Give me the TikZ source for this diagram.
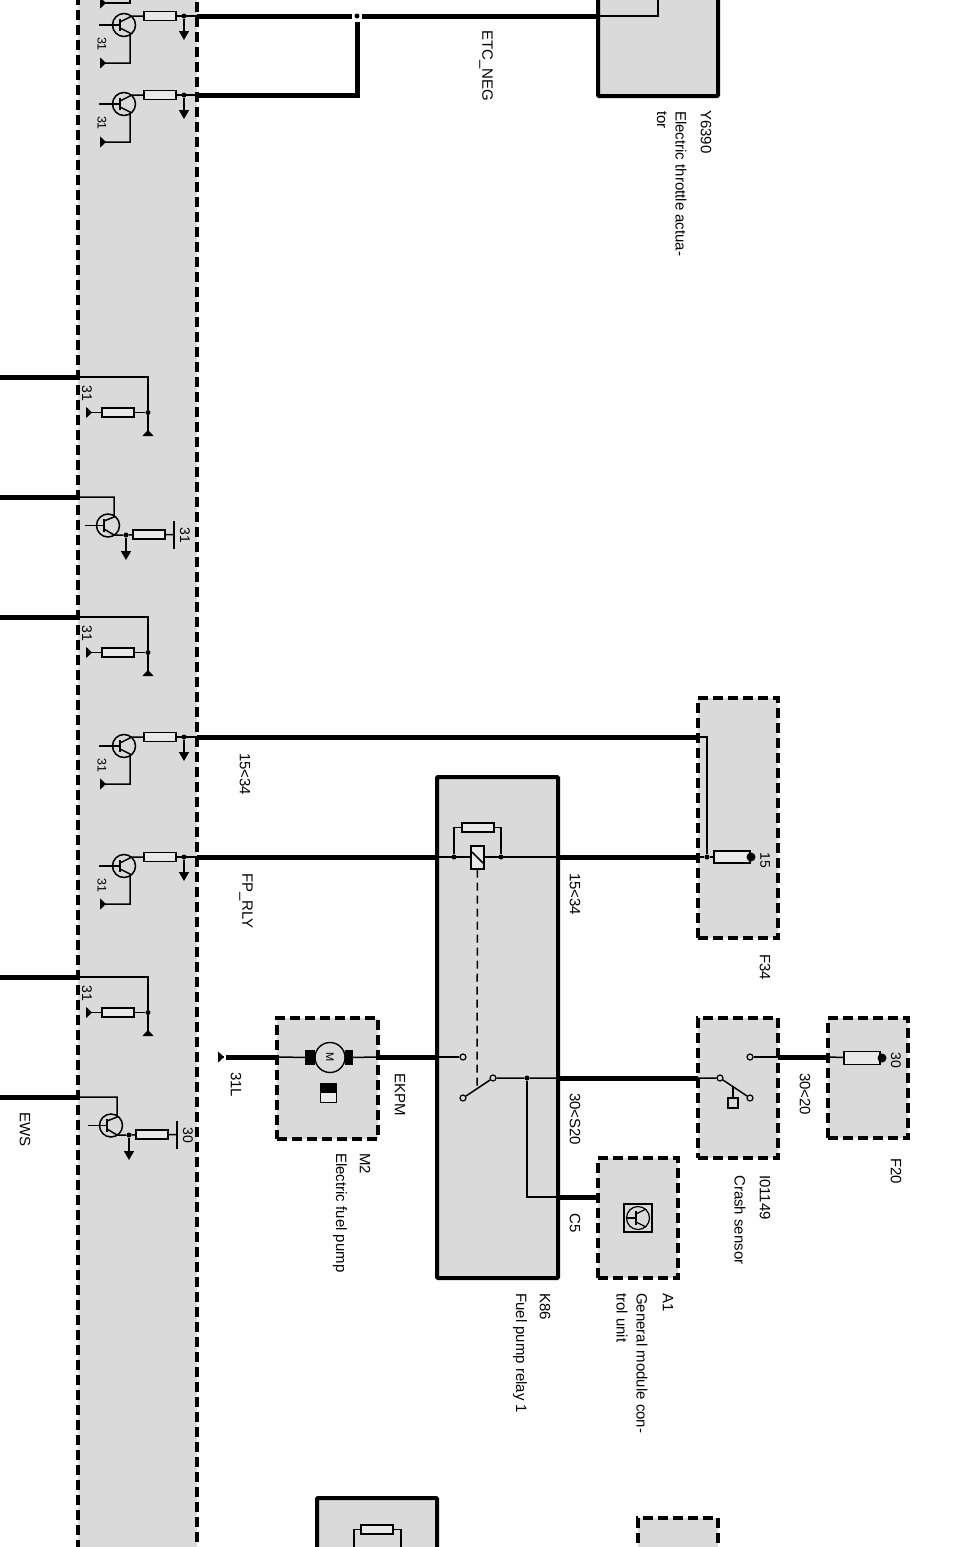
\documentclass[tikz,border=0pt]{standalone}
\usepackage{fontspec}
\setmainfont{Liberation Sans}
\usetikzlibrary{arrows.meta, positioning}
\definecolor{boxgray}{HTML}{DADADA}
\def\thickw{5pt}

\begin{document}
\begin{tikzpicture}[x=1pt,y=-1pt]
    \tikzstyle{wire}=[line width=1.5pt,draw=black]
    \tikzstyle{bus}=[line width=\thickw,draw=black]
    \tikzstyle{gnd}=[-{Triangle[reversed,length=6pt,width=11pt]}]
    \tikzstyle{down}=[-{Triangle[length=9pt,width=10pt]}]
    \tikzstyle{dashbox}=[rectangle,draw=black,fill=boxgray,line width=3.5pt,dash pattern=on 10pt off 5pt,inner sep=0pt]
    \tikzstyle{solidbox}=[rectangle,draw=black,fill=boxgray,line width=4pt,rounded corners=1pt,inner sep=0pt]
    \tikzstyle{res}=[rectangle,draw=black,fill=boxgray!60,line width=1.4pt,minimum width=32pt,minimum height=9pt,inner sep=0pt]
    \tikzstyle{fuse}=[rectangle,draw=black,fill=boxgray!60,line width=1.4pt,minimum width=36pt,minimum height=12pt,inner sep=0pt]
    \tikzstyle{trans}=[circle,draw=black,line width=1.5pt,minimum size=23pt,inner sep=0pt]
    \tikzstyle{dot}=[circle,fill=black,minimum size=5pt,inner sep=0pt]
    \tikzstyle{contact}=[circle,draw=black,fill=boxgray,line width=1.2pt,minimum size=6pt,inner sep=0pt]
    \tikzstyle{annot}=[rotate=-90,anchor=west,inner sep=0pt,font=\fontsize{15}{17}\selectfont]
    \tikzstyle{pinlabel}=[rotate=-90,inner sep=0pt,font=\fontsize{14}{16}\selectfont]

    \clip (0,0) rectangle (955,1547);

    % Draw the boxes
    \node[dashbox,minimum width=119pt,minimum height=1600pt] (CU) at (137.5,773) {};
    \node[solidbox,minimum width=120pt,minimum height=120pt] (Y6390) at (658,36) {};
    \node[dashbox,minimum width=80pt,minimum height=240pt] (F34) at (738,818) {};
    \node[solidbox,minimum width=121pt,minimum height=501pt] (K86) at (497.5,1027.5) {};
    \node[dashbox,minimum width=101pt,minimum height=121pt] (M2) at (327.5,1078.5) {};
    \node[dashbox,minimum width=80pt,minimum height=140pt] (I01149) at (738,1088) {};
    \node[dashbox,minimum width=80pt,minimum height=120pt] (F20) at (868,1078) {};
    \node[dashbox,minimum width=80pt,minimum height=120pt] (A1) at (638,1218) {};
    \node[solidbox,minimum width=120pt,minimum height=200pt] (K-low) at (377,1598) {};
    \node[dashbox,minimum width=80pt,minimum height=200pt] (box-low) at (678,1618) {};

    % Transistor outputs on the right side of the band
    \foreach \n/\y in {a/16,b/95,c/737,d/857}
    {
        \node[trans] (T-\n) at (124,\y+9) {};
        \node[res] (R-\n) at (160,\y) {};
        \node[dot] (D-\n) at (184,\y) {};
        \coordinate (E-\n) at (197,\y);
        \coordinate (A-\n) at (184,\y+24);
        \coordinate (S-\n) at (99,\y+9);
        \coordinate (G-\n) at (100,\y+47);
        \draw[wire] (S-\n) -- (120,\y+9);
        \draw[wire] (120,\y+3) -- (120,\y+15);
        \draw[wire] (120,\y+6) -- (130,\y+1) -- (130,\y) -- (R-\n);
        \draw[wire] (R-\n) -- (E-\n);
        \draw[wire,down] (D-\n) -- (A-\n);
        \draw[wire,gnd] (120,\y+12) -- (130,\y+17) |- (G-\n);
        \node[pinlabel,font=\fontsize{12.5}{14}\selectfont] (N-\n) at (102,\y+28) {31};
    }
    % the one cut off by the top edge
    \coordinate (G-top) at (100,3);
    \draw[wire,gnd] (130,0) |- (G-top);

    % Pull-down resistors
    \foreach \n/\y in {e/377,f/617,g/977}
    {
        \coordinate (B-\n) at (0,\y);
        \coordinate (W-\n) at (78,\y);
        \node[res] (R-\n) at (118,\y+35.5) {};
        \node[dot] (D-\n) at (148,\y+35.5) {};
        \coordinate (G-\n) at (148,\y+59);
        \coordinate (H-\n) at (86,\y+35.5);
        \draw[bus] (B-\n) -- (W-\n);
        \draw[wire] (W-\n) -| (D-\n);
        \draw[wire] (R-\n) -- (D-\n);
        \draw[wire,gnd] (R-\n) -- (H-\n);
        \draw[wire,gnd] (D-\n) -- (G-\n);
        \node[pinlabel] (N-\n) at (87,\y+16) {31};
    }

    % Transistors fed from the left
    \foreach \n/\x/\y/\v in {h/108/497/31,i/111/1097/30}
    {
        \coordinate (B-\n) at (0,\y);
        \coordinate (W-\n) at (78,\y);
        \node[trans] (T-\n) at (\x,\y+28.5) {};
        \node[res] (R-\n) at (\x+41,\y+37.5) {};
        \node[dot] (D-\n) at (\x+18,\y+38) {};
        \coordinate (A-\n) at (\x+18,\y+63);
        \coordinate (S-\n) at (\x-23,\y+28.5);
        \coordinate (P-\n) at (\x+66,\y+37.5);
        \draw[bus] (B-\n) -- (W-\n);
        \draw[wire] (W-\n) -| (\x+6,\y+20) -- (\x-4,\y+24);
        \draw[wire] (S-\n) -- (\x-4,\y+28.5);
        \draw[wire] (\x-4,\y+22) -- (\x-4,\y+35);
        \draw[wire] (\x-4,\y+32) -- (\x+6,\y+38) -- (D-\n);
        \draw[wire,down] (D-\n) -- (A-\n);
        \draw[wire] (D-\n) -- (R-\n) -- (P-\n);
        \draw[wire] (\x+66,\y+24) -- (\x+66,\y+52);
        \node[pinlabel] (N-\n) at (\x+77,\y+38) {\v};
    }

    % Wires at the top
    \node[dot] (J-1) at (357,16) {};
    \coordinate (J-2) at (357,22);
    \coordinate (J-3) at (357,95);
    \coordinate (Y-in) at (598,16);
    \coordinate (Y-top) at (658,0);
    \draw[bus] (E-a) -- (352,16);
    \draw[bus] (362,16) -- (Y-in);
    \draw[bus] (E-b) -- (359.5,95);
    \draw[bus] (J-3) -- (J-2);
    \draw[wire] (Y-in) -| (Y-top);

    % Fuse F34 and the relay
    \coordinate (F34-a) at (698,737);
    \coordinate (F34-b) at (698,857);
    \coordinate (K-a) at (437,857);
    \coordinate (K-b) at (558,857);
    \node[fuse] (fuse-15) at (732,857) {};
    \node[dot,minimum size=9pt] (fuse-15e) at (751,857) {};
    \node[dot] (D-15) at (707,857) {};
    \draw[bus] (E-c) -- (F34-a);
    \draw[wire] (F34-a) -| (D-15);
    \draw[wire] (F34-b) -- (D-15) -- (fuse-15);
    \draw[bus] (E-d) -- (K-a);
    \draw[bus] (K-b) -- (F34-b);

    \node[res] (R-k) at (478,827.5) {};
    \node[dot] (D-k1) at (454,857) {};
    \node[dot] (D-k2) at (501,857) {};
    \draw[wire] (K-a) -- (K-b);
    \draw[wire] (D-k1) |- (R-k);
    \draw[wire] (R-k) -| (D-k2);
    \node[rectangle,draw=black,fill=boxgray!60,line width=1.4pt,minimum width=13pt,minimum height=23pt,inner sep=0pt] (coil) at (477.5,857.5) {};
    \draw[wire] (472,852) -- (483,863);

    % Relay switch
    \node[contact] (C-1) at (463,1057) {};
    \node[contact] (C-2) at (463,1098) {};
    \node[contact] (C-3) at (493,1078) {};
    \node[dot] (D-s) at (527,1078) {};
    \coordinate (K-c) at (558,1078);
    \coordinate (K-d) at (558,1197);
    \coordinate (K-e) at (437,1057);
    \coordinate (I-a) at (698,1078);
    \coordinate (A1-a) at (598,1197);
    \coordinate (coil-end) at (477,1087);
    \draw[wire,dash pattern=on 8pt off 5pt] (coil) -- (coil-end);
    \draw[wire] (C-2) -- (C-3) -- (D-s) -- (K-c);
    \draw[wire] (D-s) |- (K-d);
    \draw[wire] (K-e) -- (C-1);
    \draw[bus] (K-c) -- (I-a);
    \draw[bus] (K-d) -- (A1-a);

    % Pump
    \node[circle,draw=black,fill=boxgray,line width=1.4pt,minimum size=30pt,inner sep=0pt,rotate=-90,font=\fontsize{11}{13}\selectfont] (motor) at (330,1057.5) {M};
    \node[rectangle,fill=black,minimum width=10pt,minimum height=15pt,inner sep=0pt] (brush-1) at (310,1057.5) {};
    \node[rectangle,fill=black,minimum width=8pt,minimum height=15pt,inner sep=0pt] (brush-2) at (349,1057.5) {};
    \node[rectangle,draw=black,fill=boxgray!50,line width=1pt,minimum width=16pt,minimum height=19pt,inner sep=0pt] (lamp) at (328.5,1093) {};
    \node[rectangle,fill=black,minimum width=16pt,minimum height=9pt,inner sep=0pt] (lamp-top) at (328.5,1088) {};
    \coordinate (M-a) at (277,1057);
    \coordinate (M-b) at (378,1057);
    \coordinate (M-g) at (226,1057);
    \coordinate (M-t) at (218,1057);
    \draw[bus] (M-g) -- (M-a);
    \draw[wire] (M-a) -- (brush-1);
    \draw[wire] (brush-2) -- (M-b);
    \draw[bus] (M-b) -- (K-e);
    \draw[wire,gnd] (223,1057) -- (M-t);

    % Crash sensor and F20
    \node[contact] (S-1) at (750,1057) {};
    \node[contact] (S-2) at (750,1098) {};
    \node[contact] (S-3) at (720,1078) {};
    \node[rectangle,draw=black,fill=boxgray,line width=1.2pt,minimum size=10pt,inner sep=0pt] (S-box) at (733,1103) {};
    \coordinate (I-b) at (778,1057);
    \coordinate (F20-a) at (828,1057);
    \node[fuse,minimum height=13pt] (fuse-30) at (862,1058) {};
    \node[dot,minimum size=9pt] (fuse-30e) at (882,1058) {};
    \draw[wire] (I-a) -- (S-3) -- (S-2);
    \draw[wire] (733,1087) -- (S-box);
    \draw[wire] (S-1) -- (I-b);
    \draw[bus] (I-b) -- (F20-a);
    \draw[wire] (F20-a) -- (fuse-30);

    % Symbol in A1
    \node[rectangle,draw=black,fill=boxgray,line width=1.2pt,minimum size=28pt,inner sep=0pt] (A1-box) at (638,1218) {};
    \node[trans,line width=1.2pt] (A1-t) at (638,1218) {};
    \draw[line width=1.2pt] (627,1218) -- (636,1218);
    \draw[line width=1.2pt] (636,1211) -- (636,1225);
    \draw[line width=1.2pt] (636,1214) -- (646,1209);
    \draw[line width=1.2pt] (636,1222) -- (646,1227);

    % Lower relay, cut off by the bottom edge
    \node[res] (R-low) at (377,1529.5) {};
    \coordinate (low-1) at (354,1547);
    \coordinate (low-2) at (401,1547);
    \draw[wire] (low-1) |- (R-low);
    \draw[wire] (R-low) -| (low-2);

    % Texts
    \foreach \x/\y/\txt [count=\i] in {
        486/30/ETC\_NEG,706/110/Y6390,681/111/Electric throttle actua-,662/111/tor,
        245/753/15<34,246/873/FP\_RLY,575/873/15<34,575/1093/30<S20,575/1213/C5,
        765/954/F34,400/1073/EKPM,236/1072/31L,365/1153/M2,340/1153/Electric fuel pump,
        545/1293/K86,520/1293/Fuel pump relay 1,668/1293/A1,642/1293/General module con-,622/1293/trol unit,
        765/1175/I01149,740/1175/Crash sensor,805/1073/30<20,896/1158/F20,25/1112/EWS}
        \node[annot] (L-\i) at (\x,\y) {\txt};
    \node[pinlabel] (L-15) at (765,860) {15};
    \node[pinlabel] (L-30) at (896,1060) {30};
\end{tikzpicture}
\end{document}
